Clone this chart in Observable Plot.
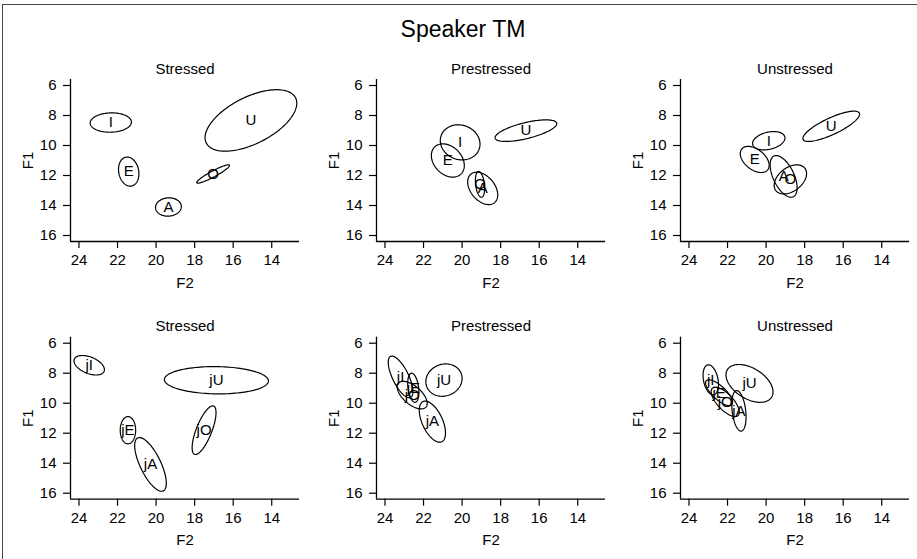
<!DOCTYPE html>
<html>
<head>
<meta charset="utf-8">
<script src="https://cdn.jsdelivr.net/npm/d3@7"></script>
<script src="https://cdn.jsdelivr.net/npm/@observablehq/plot@0.6"></script>
<style>
  body { margin: 0; background: #fff; }
  #fig { position: relative; width: 917px; height: 559px; overflow: hidden; background: #fff;
         font-family: "Liberation Sans", Arial, Helvetica, sans-serif; color: #000; }
  #frame { position: absolute; left: 2px; top: 4px; width: 1000px; height: 1000px;
           border-top: 1.5px solid #444; border-left: 1.5px solid #444; }
  #title { position: absolute; left: 0; width: 926px; top: 18px; text-align: center;
           font-size: 23px; line-height: 23px; }
  .panel { position: absolute; }
</style>
</head>
<body>
<div id="fig">
  <div id="frame"></div>
  <div id="title">Speaker TM</div>
</div>
<script>
// Vowel ellipses: [vowel, mean F2, mean F1, sd F2, sd F1, correlation]
const stressedPlain = [
  ["I", 22.35, 8.47, 1.07, 0.645, 0.05],
  ["E", 21.42, 11.74, 0.53, 0.97, -0.15],
  ["A", 19.36, 14.10, 0.67, 0.61, 0.05],
  ["O", 17.04, 11.90, 0.85, 0.61, 0.93],
  ["U", 15.08, 8.33, 2.38, 2.05, 0.56]
];
const prestressedPlain = [
  ["I", 20.10, 9.79, 1.03, 1.17, -0.10],
  ["E", 20.74, 11.00, 0.855, 1.11, -0.30],
  ["A", 18.93, 12.86, 0.78, 1.08, -0.40],
  ["O", 19.07, 12.59, 0.24, 0.86, -0.30],
  ["U", 16.69, 9.01, 1.60, 0.72, 0.65]
];
const unstressedPlain = [
  ["I", 19.86, 9.68, 0.84, 0.61, 0.30],
  ["E", 20.59, 10.93, 0.75, 0.87, -0.45],
  ["A", 19.09, 12.06, 0.70, 1.39, -0.55],
  ["O", 18.74, 12.26, 0.84, 0.97, 0.40],
  ["U", 16.62, 8.72, 1.47, 1.01, 0.80]
];
const stressedJ = [
  ["jI", 23.47, 7.47, 0.79, 0.65, -0.45],
  ["jE", 21.46, 11.80, 0.40, 0.91, 0.00],
  ["jA", 20.29, 14.08, 0.82, 1.79, -0.70],
  ["jO", 17.51, 11.80, 0.62, 1.62, 0.72],
  ["jU", 16.87, 8.47, 2.70, 0.91, -0.05]
];
const prestressedJ = [
  ["jI", 23.19, 8.25, 0.64, 1.39, -0.70],
  ["jE", 22.53, 8.97, 0.29, 0.97, -0.30],
  ["jA", 21.54, 11.23, 0.68, 1.37, -0.55],
  ["jO", 22.59, 9.46, 0.78, 0.92, -0.60],
  ["jU", 20.94, 8.46, 0.94, 1.08, 0.10]
];
const unstressedJ = [
  ["jI", 22.87, 8.44, 0.40, 1.00, -0.30],
  ["jE", 22.44, 9.30, 0.70, 0.86, -0.75],
  ["jA", 21.41, 10.51, 0.37, 1.35, -0.30],
  ["jO", 22.12, 9.91, 0.73, 0.98, -0.70],
  ["jU", 20.86, 8.68, 1.22, 1.26, -0.45]
];

const conditions = ["Stressed", "Prestressed", "Unstressed"];
const panelRows = [
  [stressedPlain, prestressedPlain, unstressedPlain],
  [stressedJ, prestressedJ, unstressedJ]
];

const f2Ticks = [24, 22, 20, 18, 16, 14];
const f1Ticks = [6, 8, 10, 12, 14, 16];
const f2Domain = [24.44, 12.56];   // F2 runs high-to-low, left to right
const f1Domain = [16.4, 5.6];      // F1 grows downward

// panel placement on the page
const panelLeft = [0, 306, 610];
const rowLayout = [
  {top: 0, height: 300, marginTop: 79, marginBottom: 59},
  {top: 300, height: 259, marginTop: 36.7, marginBottom: 60.3}
];

const font = `"Liberation Sans", Arial, Helvetica, sans-serif`;

function toRecords(rows) {
  return rows.map(([v, f2, f1, s2, s1, r]) => ({v, f2, f1, s2, s1, r}));
}

// outline of the data ellipse for each vowel, traced in data units
function outline(recs) {
  const pts = [];
  const n = 120;
  for (const e of recs) {
    const k = Math.sqrt(1 - e.r * e.r);
    for (let i = 0; i <= n; i++) {
      const t = (2 * Math.PI * i) / n;
      pts.push({
        v: e.v,
        x: e.f2 + e.s2 * Math.cos(t),
        y: e.f1 + e.s1 * (e.r * Math.cos(t) + k * Math.sin(t))
      });
    }
  }
  return pts;
}

const fig = document.getElementById("fig");

panelRows.forEach((row, ri) => {
  const L = rowLayout[ri];
  row.forEach((rows, ci) => {
    const recs = toRecords(rows);
    const chart = Plot.plot({
      width: 305,
      height: L.height,
      marginLeft: 70,
      marginRight: 6,
      marginTop: L.marginTop,
      marginBottom: L.marginBottom,
      style: {background: "transparent", fontFamily: font, fontSize: "15px", color: "#000", overflow: "visible"},
      x: {domain: f2Domain},
      y: {domain: f1Domain},
      marks: [
        Plot.axisX({ticks: f2Ticks, tickSize: 7, tickPadding: 6, fontSize: 15, label: null, strokeWidth: 1.2}),
        Plot.axisY({ticks: f1Ticks, tickSize: 7, tickPadding: 7, fontSize: 15, label: null, strokeWidth: 1.2}),
        Plot.ruleY([f1Domain[0]], {stroke: "#000", strokeWidth: 1.3}),
        Plot.ruleX([f2Domain[0]], {stroke: "#000", strokeWidth: 1.3}),
        Plot.line(outline(recs), {x: "x", y: "y", z: "v", stroke: "#000", strokeWidth: 1.2, curve: "linear"}),
        Plot.text(recs, {x: "f2", y: "f1", text: "v", fontSize: 15, fill: "#000"}),
        Plot.text([conditions[ci]], {frameAnchor: "top", dy: -6, lineAnchor: "bottom", fontSize: 15, fill: "#000"}),
        Plot.text(["F2"], {frameAnchor: "bottom", dy: 46, lineAnchor: "bottom", fontSize: 15, fill: "#000"}),
        Plot.text(["F1"], {frameAnchor: "left", dx: -42.5, rotate: -90, lineAnchor: "middle", textAnchor: "middle", fontSize: 15, fill: "#000"})
      ]
    });
    const holder = document.createElement("div");
    holder.className = "panel";
    holder.style.left = panelLeft[ci] + "px";
    holder.style.top = L.top + "px";
    holder.appendChild(chart);
    fig.appendChild(holder);
  });
});
</script>
</body>
</html>
